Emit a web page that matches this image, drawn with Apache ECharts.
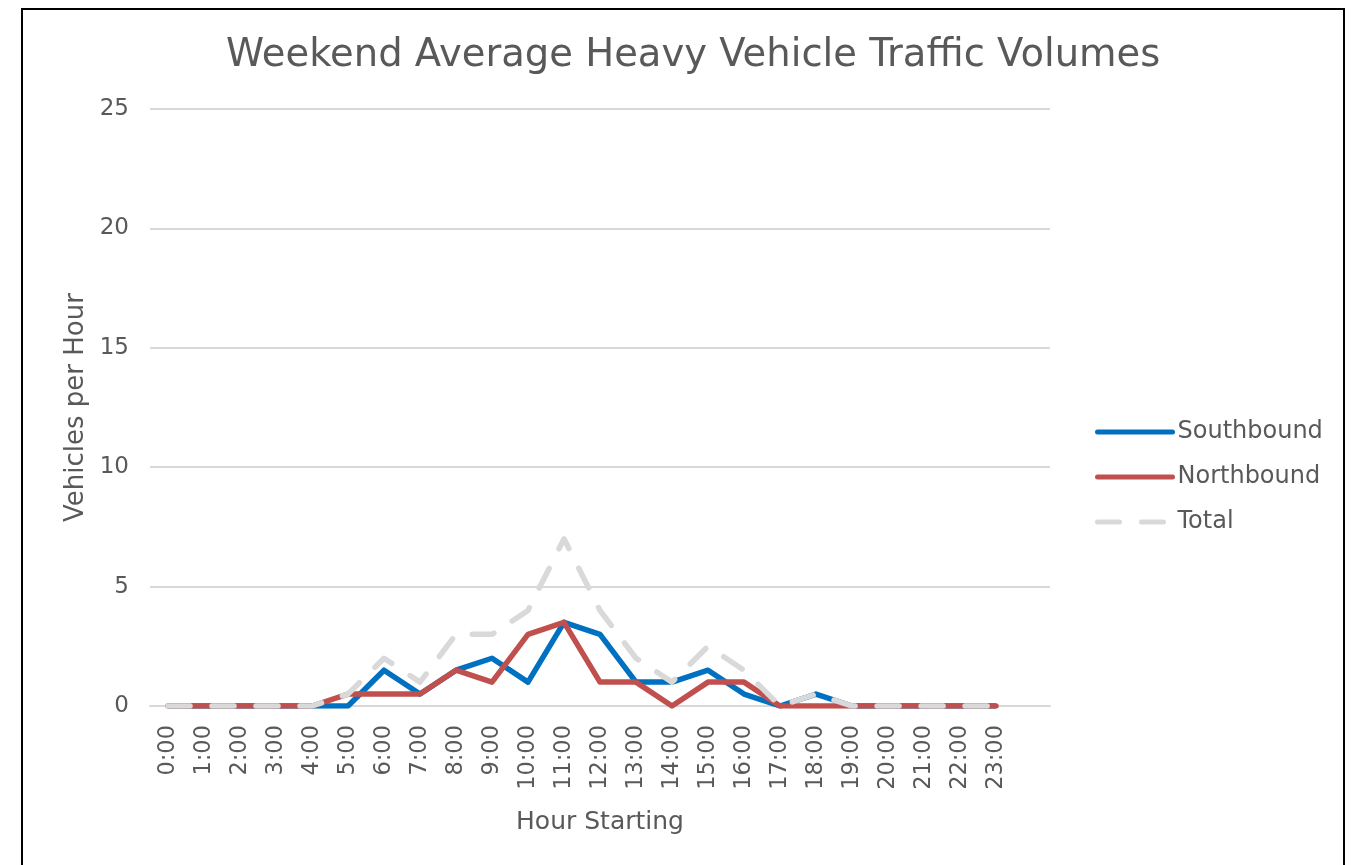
<!DOCTYPE html>
<html>
<head>
<meta charset="utf-8">
<script src="https://cdn.jsdelivr.net/npm/echarts@6/dist/echarts.min.js"></script>
<style>
  html, body { margin: 0; padding: 0; background: #fff; }
  #frame {
    position: absolute; left: 21px; top: 8px; width: 1324px; height: 870px;
    border: 2px solid #000; box-sizing: border-box;
  }
  #chart { position: absolute; left: 0; top: 0; width: 1358px; height: 865px; }
</style>
</head>
<body>
<div id="frame"></div>
<div id="chart"></div>
<script>
// data
const hours = ['0:00', '1:00', '2:00', '3:00', '4:00', '5:00', '6:00', '7:00', '8:00', '9:00', '10:00', '11:00',
    '12:00', '13:00', '14:00', '15:00', '16:00', '17:00', '18:00', '19:00', '20:00', '21:00', '22:00', '23:00', '']
const southbound = [0, 0, 0, 0, 0, 0, 1.5, 0.5, 1.5, 2, 1, 3.5, 3, 1, 1, 1.5, 0.5, 0, 0.5, 0, 0, 0, 0, 0]
const northbound = [0, 0, 0, 0, 0, 0.5, 0.5, 0.5, 1.5, 1, 3, 3.5, 1, 1, 0, 1, 1, 0, 0, 0, 0, 0, 0, 0]
const total = [0, 0, 0, 0, 0, 0.5, 2, 1, 3, 3, 4, 7, 4, 2, 1, 2.5, 1.5, 0, 0.5, 0, 0, 0, 0, 0]

const textColor = '#595959'
const font = 'DejaVu Sans'

const chartDom = document.getElementById('chart')
const myChart = echarts.init(chartDom)

const option = {
    animation: false,
    title: {
        text: 'Weekend Average Heavy Vehicle Traffic Volumes',
        left: 221,
        top: 31,
        textStyle: { color: textColor, fontSize: 38.5, fontWeight: 'normal', fontFamily: font },
    },
    grid: { left: 150, right: 308, top: 109, bottom: 159, containLabel: false },
    legend: {
        orient: 'vertical',
        left: 1090,
        top: 415,
        itemWidth: 75,
        itemHeight: 14,
        itemGap: 21,
        textStyle: { color: textColor, fontSize: 24, fontFamily: font },
        itemStyle: { opacity: 0 },
        lineStyle: { width: 5, cap: 'round' },
        data: ['Southbound', 'Northbound', 'Total'],
    },
    xAxis: {
        type: 'category',
        data: hours,
        boundaryGap: true,
        name: 'Hour Starting',
        nameLocation: 'middle',
        nameGap: 104,
        nameTextStyle: { color: textColor, fontSize: 25, fontFamily: font },
        axisLine: { show: true, lineStyle: { color: '#d9d9d9', width: 2 } },
        axisTick: { show: false },
        axisLabel: {
            rotate: 90, interval: 0, color: textColor, fontSize: 22.5, fontFamily: font, margin: 19,
        },
    },
    yAxis: {
        type: 'value',
        min: 0,
        max: 25,
        interval: 5,
        name: 'Vehicles per Hour',
        nameLocation: 'middle',
        nameGap: 61,
        nameTextStyle: { color: textColor, fontSize: 26, fontFamily: font },
        axisLine: { show: false },
        axisTick: { show: false },
        axisLabel: { color: textColor, fontSize: 23, fontFamily: font, margin: 21 },
        splitLine: { lineStyle: { color: '#d9d9d9', width: 2 } },
    },
    series: [
        {
            name: 'Southbound',
            type: 'line',
            data: southbound,
            symbol: 'none',
            itemStyle: { color: '#0070c0' },
            lineStyle: { color: '#0070c0', width: 5.5, join: 'round' },
        },
        {
            name: 'Northbound',
            type: 'line',
            data: northbound,
            symbol: 'none',
            itemStyle: { color: '#c0504d' },
            lineStyle: { color: '#c0504d', width: 5.5, cap: 'round', join: 'round' },
        },
        {
            name: 'Total',
            type: 'line',
            data: total,
            symbol: 'none',
            itemStyle: { color: '#d9d9d9' },
            lineStyle: { color: '#d9d9d9', width: 5.5, type: [22, 22], cap: 'round', join: 'round' },
        },
    ],
}
myChart.setOption(option)

window.addEventListener('resize', function () {
    myChart.resize()
})
</script>
</body>
</html>
